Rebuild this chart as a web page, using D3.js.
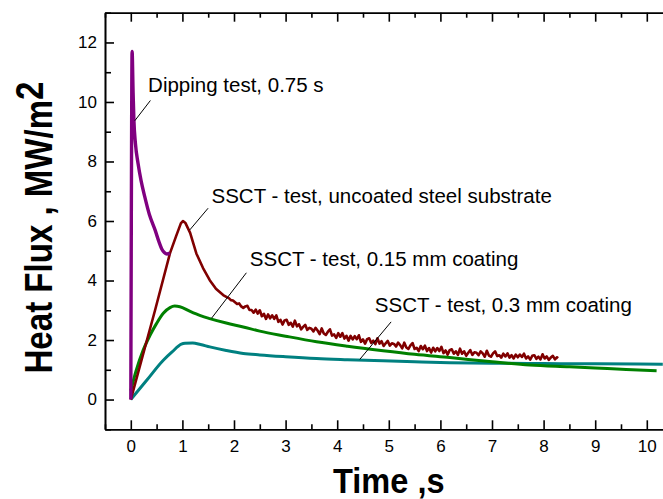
<!DOCTYPE html>
<html>
<head>
<meta charset="utf-8">
<script src="https://cdn.jsdelivr.net/npm/d3@7"></script>
<style>
  body { margin: 0; background: #fff; }
  svg { display: block; font-family: "Liberation Sans", Arial, sans-serif; }
  .axis path, .axis line { stroke: #000; stroke-width: 1.6px; }
  .axis text { font-size: 17px; fill: #000; }
</style>
</head>
<body>
<div id="chart"></div>
<script>
// heat flux curves, [time s, MW/m2]
const dipping = [[0,0],[0.01,6],[0.025,11.7],[0.045,10.3],[0.06,9.4],[0.09,8.6],[0.14,7.94],[0.2,7.35],
  [0.27,6.82],[0.36,6.22],[0.47,5.7],[0.55,5.28],[0.6,5.06],[0.65,4.94],[0.7,4.89],[0.76,4.92]];

const uncoated = [[0,0],[0.47,3.0],[0.76,4.92],[0.88,5.5],[0.97,5.92],[1.01,6.0],[1.06,5.93],[1.15,5.6],
  [1.27,4.91],[1.4,4.42],[1.53,4.01],[1.65,3.72],[1.79,3.51],[1.86,3.44],
  [1.90,3.41],[1.94,3.34],[1.98,3.33],[2.02,3.27],[2.06,3.21],[2.10,3.23],[2.14,3.13],[2.18,3.08],
  [2.22,3.13],[2.26,3.15],[2.30,3.01],[2.34,3.01],[2.38,2.92],[2.42,3.02],[2.46,2.89],[2.50,3.00],
  [2.54,2.80],[2.58,2.88],[2.62,2.71],[2.66,2.86],[2.70,2.73],[2.74,2.83],[2.78,2.71],[2.82,2.83],
  [2.86,2.61],[2.90,2.68],[2.94,2.52],[2.98,2.66],[3.02,2.68],[3.06,2.51],[3.10,2.58],[3.14,2.45],
  [3.18,2.65],[3.22,2.46],[3.26,2.53],[3.30,2.36],[3.34,2.44],[3.38,2.51],[3.42,2.34],[3.46,2.41],
  [3.50,2.38],[3.54,2.29],[3.58,2.41],[3.62,2.32],[3.66,2.20],[3.70,2.39],[3.74,2.22],[3.78,2.17],
  [3.82,2.28],[3.86,2.36],[3.90,2.15],[3.94,2.19],[3.98,2.07],[4.02,2.23],[4.06,2.11],[4.10,2.23],
  [4.14,2.05],[4.18,2.14],[4.22,1.98],[4.26,2.14],[4.30,2.02],[4.34,2.13],[4.38,2.03],[4.42,2.16],
  [4.46,1.94],[4.50,2.02],[4.54,1.88],[4.58,2.03],[4.62,2.06],[4.66,1.90],[4.70,1.98],[4.74,1.86],
  [4.78,2.06],[4.82,1.88],[4.86,1.96],[4.90,1.80],[4.94,1.89],[4.98,1.97],[5.02,1.81],[5.06,1.89],
  [5.10,1.87],[5.14,1.78],[5.18,1.91],[5.22,1.83],[5.26,1.72],[5.30,1.91],[5.34,1.75],[5.38,1.70],
  [5.42,1.82],[5.46,1.90],[5.50,1.70],[5.54,1.74],[5.58,1.63],[5.62,1.80],[5.66,1.69],[5.70,1.81],
  [5.74,1.63],[5.78,1.73],[5.82,1.58],[5.86,1.74],[5.90,1.62],[5.94,1.73],[5.98,1.63],[6.02,1.77],
  [6.06,1.56],[6.10,1.65],[6.14,1.51],[6.18,1.66],[6.22,1.69],[6.26,1.54],[6.30,1.62],[6.34,1.50],
  [6.38,1.71],[6.42,1.54],[6.46,1.62],[6.50,1.47],[6.54,1.57],[6.58,1.66],[6.62,1.50],[6.66,1.59],
  [6.70,1.57],[6.74,1.49],[6.78,1.62],[6.82,1.55],[6.86,1.44],[6.90,1.64],[6.94,1.48],[6.98,1.44],
  [7.02,1.55],[7.06,1.62],[7.10,1.46],[7.14,1.49],[7.18,1.41],[7.22,1.54],[7.26,1.45],[7.30,1.55],
  [7.34,1.41],[7.38,1.49],[7.42,1.38],[7.46,1.51],[7.50,1.42],[7.54,1.51],[7.58,1.43],[7.62,1.54],
  [7.66,1.38],[7.70,1.45],[7.74,1.34],[7.78,1.47],[7.82,1.49],[7.86,1.37],[7.90,1.44],[7.94,1.35],
  [7.98,1.52],[8.02,1.38],[8.06,1.45],[8.10,1.33],[8.14,1.41],[8.18,1.47],[8.22,1.35],[8.26,1.42],[8.28,1.39]];

const coat015 = [[0,0.3],[0.1,0.95],[0.24,1.66],[0.37,2.15],[0.5,2.56],[0.63,2.9],[0.76,3.09],[0.85,3.14],
  [0.95,3.12],[1.14,2.97],[1.35,2.82],[1.53,2.72],[1.85,2.57],[2.18,2.44],[2.5,2.3],[3.0,2.13],[3.6,1.94],
  [4.2,1.79],[4.89,1.64],[5.5,1.52],[6.18,1.41],[7.0,1.27],[7.73,1.16],[8.5,1.1],[9.0,1.06],[9.6,1.01],[10.19,0.97]];

const coat03 = [[0,0],[0.3,0.63],[0.63,1.32],[0.8,1.6],[0.98,1.86],[1.05,1.89],[1.2,1.9],[1.35,1.85],
  [1.53,1.77],[1.85,1.65],[2.18,1.55],[2.5,1.5],[3.0,1.44],[3.6,1.38],[4.2,1.34],[4.89,1.3],[5.5,1.27],
  [6.18,1.24],[7.0,1.22],[8.0,1.21],[9.0,1.2],[10.31,1.19]];

const seriesColors = ['#800080', '#800000', '#008000', '#008080'];

const xMajor = [0,1,2,3,4,5,6,7,8,9,10];
const xMinor = [-0.5,0.5,1.5,2.5,3.5,4.5,5.5,6.5,7.5,8.5,9.5,10.5];
const yMajor = [0,2,4,6,8,10,12];
const yMinor = [-1,1,3,5,7,9,11,13];

// labels: text anchor and leader line in data units
const labels = [
  { text: 'Dipping test, 0.75 s', at: [0.335, 10.35], from: [0.38, 10.05], to: [0.078, 9.37] },
  { text: 'SSCT - test, uncoated steel substrate', at: [1.564, 6.6], from: [1.498, 6.43], to: [1.143, 5.70] },
  { text: 'SSCT - test, 0.15 mm coating', at: [2.306, 4.5], from: [2.24, 4.26], to: [1.564, 2.73] },
  { text: 'SSCT - test, 0.3 mm coating', at: [4.729, 2.95], from: [5.045, 2.61], to: [4.438, 1.35] }
];

const width = 663, height = 499;
const margin = { top: 12.7, left: 105, bottom: 69.7 };
const plotRight = 105 + 11 * 51.6;

const svg = d3.select('#chart').append('svg')
  .attr('width', width)
  .attr('height', height);

const x = d3.scaleLinear().domain([-0.5, 10.5]).range([margin.left, plotRight]);
const y = d3.scaleLinear().domain([-1, 13]).range([height - margin.bottom, margin.top]);

svg.append('clipPath').attr('id', 'clip')
  .append('rect')
  .attr('x', x(-0.5)).attr('y', y(13))
  .attr('width', plotRight - x(-0.5)).attr('height', y(-1) - y(13));

// curves
const line = d3.line()
  .x(function (d) { return x(d[0]); })
  .y(function (d) { return y(d[1]); });

const curves = [
  { data: coat03, color: seriesColors[3], w: 3, curve: d3.curveMonotoneX },
  { data: coat015, color: seriesColors[2], w: 3, curve: d3.curveMonotoneX },
  { data: uncoated, color: seriesColors[1], w: 2.6, curve: d3.curveLinear },
  { data: dipping, color: seriesColors[0], w: 3.4, curve: d3.curveMonotoneX }
];

svg.append('g').attr('clip-path', 'url(#clip)')
  .selectAll('path')
  .data(curves)
  .enter().append('path')
  .attr('fill', 'none')
  .attr('stroke', function (d) { return d.color; })
  .attr('stroke-width', function (d) { return d.w; })
  .attr('stroke-linejoin', 'round')
  .attr('d', function (d) { return line.curve(d.curve)(d.data); });

// axes, ticks point inward
svg.append('g').attr('class', 'axis')
  .attr('transform', 'translate(0,' + y(-1) + ')')
  .call(d3.axisBottom(x).tickValues(xMajor).tickSize(-9).tickSizeOuter(0).tickPadding(11));

svg.append('g').attr('class', 'axis')
  .attr('transform', 'translate(0,' + y(-1) + ')')
  .call(d3.axisBottom(x).tickValues(xMinor).tickSize(-5).tickSizeOuter(0).tickFormat(''));

svg.append('g').attr('class', 'axis')
  .attr('transform', 'translate(0,' + y(13) + ')')
  .call(d3.axisTop(x).tickValues(xMajor).tickSize(-9).tickSizeOuter(0).tickFormat(''));

svg.append('g').attr('class', 'axis')
  .attr('transform', 'translate(0,' + y(13) + ')')
  .call(d3.axisTop(x).tickValues(xMinor).tickSize(-5).tickSizeOuter(0).tickFormat(''));

svg.append('g').attr('class', 'axis')
  .attr('transform', 'translate(' + x(-0.5) + ',0)')
  .call(d3.axisLeft(y).tickValues(yMajor).tickSize(-9).tickSizeOuter(0).tickPadding(8));

svg.append('g').attr('class', 'axis')
  .attr('transform', 'translate(' + x(-0.5) + ',0)')
  .call(d3.axisLeft(y).tickValues(yMinor).tickSize(-6).tickSizeOuter(0).tickFormat(''));

// annotations
const ann = svg.append('g');
ann.selectAll('line')
  .data(labels)
  .enter().append('line')
  .attr('x1', function (d) { return x(d.from[0]); })
  .attr('y1', function (d) { return y(d.from[1]); })
  .attr('x2', function (d) { return x(d.to[0]); })
  .attr('y2', function (d) { return y(d.to[1]); })
  .attr('stroke', '#000')
  .attr('stroke-width', 1);

ann.selectAll('text')
  .data(labels)
  .enter().append('text')
  .attr('x', function (d) { return x(d.at[0]); })
  .attr('y', function (d) { return y(d.at[1]); })
  .attr('font-size', '20.5px')
  .attr('fill', '#000')
  .text(function (d) { return d.text; });

// axis titles
const yTitle = svg.append('text')
  .attr('transform', 'translate(52,227.5) rotate(-90) scale(0.87,1)')
  .attr('text-anchor', 'middle')
  .attr('font-size', '38px')
  .attr('font-weight', 'bold');
yTitle.append('tspan').text('Heat Flux , MW/m');
yTitle.append('tspan').attr('dy', -9).text('2');

svg.append('text')
  .attr('transform', 'translate(' + x(5) + ',493) scale(0.93,1)')
  .attr('text-anchor', 'middle')
  .attr('font-size', '35px')
  .attr('font-weight', 'bold')
  .text('Time ,s');
</script>
</body>
</html>
